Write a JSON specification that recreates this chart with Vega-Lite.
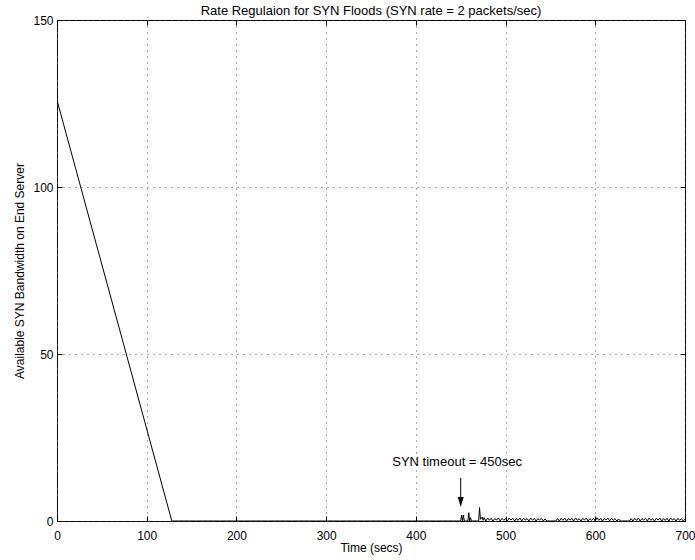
{
  "$schema": "https://vega.github.io/schema/vega-lite/v6.json",
  "width": 628,
  "height": 501,
  "autosize": "none",
  "padding": {"left": 57, "top": 20, "right": 10, "bottom": 39},
  "background": "white",
  "title": {"text": "Rate Regulaion for SYN Floods (SYN rate = 2 packets/sec)", "fontSize": 13, "fontWeight": "normal", "font": "Liberation Sans", "color": "black", "offset": -4},
  "config": {
    "view": {"stroke": "black", "strokeWidth": 1},
    "font": "Liberation Sans",
    "axis": {"domain": false, "labelFont": "Liberation Sans", "titleFont": "Liberation Sans", "labelFontSize": 12, "titleFontSize": 12, "titleFontWeight": "normal", "labelColor": "black", "titleColor": "black", "tickColor": "black", "tickSize": -5, "gridColor": "#555555", "gridDash": [1, 5], "gridOpacity": 1}
  },
  "datasets": {
    "series": [
      {"t": 0, "v": 126}, {"t": 128, "v": 0}, {"t": 450, "v": 0}, {"t": 451, "v": 1.8}, {"t": 452, "v": 0}, {"t": 453, "v": 1.8}, {"t": 454, "v": 0},
      {"t": 458, "v": 0}, {"t": 459, "v": 2.5}, {"t": 460, "v": 0}, {"t": 461, "v": 1}, {"t": 462, "v": 0}, {"t": 470, "v": 0}, {"t": 471, "v": 4},
      {"t": 472, "v": 0.5}, {"t": 474, "v": 1.2}, {"t": 475, "v": 0.2}, {"t": 476, "v": 1}, {"t": 478, "v": 0},
      {"t": 480, "v": 0.9}, {"t": 482, "v": 0.2}, {"t": 484, "v": 0.8}, {"t": 486, "v": 0}, {"t": 488, "v": 0.7}, {"t": 490, "v": 0.3}, {"t": 492, "v": 0.9}, {"t": 494, "v": 0},
      {"t": 496, "v": 0.8}, {"t": 498, "v": 0.2}, {"t": 500, "v": 0.7}, {"t": 502, "v": 0}, {"t": 504, "v": 0.9}, {"t": 506, "v": 0.3}, {"t": 508, "v": 0.8}, {"t": 510, "v": 0},
      {"t": 512, "v": 0.7}, {"t": 514, "v": 0.2}, {"t": 516, "v": 0.9}, {"t": 518, "v": 0}, {"t": 520, "v": 0.8}, {"t": 522, "v": 0.3}, {"t": 524, "v": 0.7}, {"t": 526, "v": 0},
      {"t": 528, "v": 0.9}, {"t": 530, "v": 0.2}, {"t": 532, "v": 0.8}, {"t": 534, "v": 0}, {"t": 536, "v": 0.7}, {"t": 538, "v": 0.3}, {"t": 540, "v": 0.8}, {"t": 542, "v": 0},
      {"t": 544, "v": 0.6}, {"t": 546, "v": 0}, {"t": 556, "v": 0}, {"t": 558, "v": 0.7}, {"t": 560, "v": 0}, {"t": 562, "v": 0.8}, {"t": 564, "v": 0.2}, {"t": 566, "v": 0.9},
      {"t": 568, "v": 0}, {"t": 570, "v": 0.7}, {"t": 572, "v": 0.3}, {"t": 574, "v": 0.8}, {"t": 576, "v": 0}, {"t": 578, "v": 0.9}, {"t": 580, "v": 0.2}, {"t": 582, "v": 0.7},
      {"t": 584, "v": 0}, {"t": 586, "v": 0.8}, {"t": 588, "v": 0.3}, {"t": 590, "v": 0.9}, {"t": 592, "v": 0}, {"t": 594, "v": 0.7}, {"t": 596, "v": 0.2}, {"t": 598, "v": 0.8},
      {"t": 600, "v": 0}, {"t": 602, "v": 1}, {"t": 604, "v": 0.2}, {"t": 606, "v": 0.8}, {"t": 608, "v": 0}, {"t": 610, "v": 0.7}, {"t": 612, "v": 0.3}, {"t": 614, "v": 0.9},
      {"t": 616, "v": 0}, {"t": 618, "v": 0.8}, {"t": 620, "v": 0.2}, {"t": 622, "v": 0.7}, {"t": 624, "v": 0}, {"t": 626, "v": 0.6}, {"t": 628, "v": 0}, {"t": 638, "v": 0},
      {"t": 640, "v": 0.7}, {"t": 642, "v": 0}, {"t": 644, "v": 0.8}, {"t": 646, "v": 0.2}, {"t": 648, "v": 0.9}, {"t": 650, "v": 0}, {"t": 652, "v": 0.7}, {"t": 654, "v": 0.3},
      {"t": 656, "v": 0.8}, {"t": 658, "v": 0}, {"t": 660, "v": 0.9}, {"t": 662, "v": 0.2}, {"t": 664, "v": 0.7}, {"t": 666, "v": 0}, {"t": 668, "v": 0.8}, {"t": 670, "v": 0.3},
      {"t": 672, "v": 0.9}, {"t": 674, "v": 0}, {"t": 676, "v": 0.7}, {"t": 678, "v": 0.2}, {"t": 680, "v": 0.8}, {"t": 682, "v": 0}, {"t": 684, "v": 0.9}, {"t": 686, "v": 0.3},
      {"t": 688, "v": 0.7}, {"t": 690, "v": 0}, {"t": 692, "v": 0.8}, {"t": 694, "v": 0.2}, {"t": 696, "v": 0.7}, {"t": 698, "v": 0}, {"t": 700, "v": 0.5}
    ],
    "arrow": [{"t": 450, "v1": 12.9, "v2": 6.5}],
    "head": [{"t": 450, "v": 5.7}],
    "label": [{"t": 446, "v": 17.7, "text": "SYN timeout = 450sec"}]
  },
  "resolve": {"axis": {"x": "independent", "y": "independent"}},
  "layer": [
    {
      "data": {"name": "series"},
      "mark": {"type": "line", "color": "black", "strokeWidth": 1, "clip": true},
      "encoding": {
        "x": {"field": "t", "type": "quantitative", "scale": {"domain": [0, 700], "nice": false, "zero": false}, "axis": {"values": [0, 100, 200, 300, 400, 500, 600, 700], "title": "Time (secs)", "grid": true, "labelPadding": 14, "titlePadding": 1, "labelFlush": false}},
        "y": {"field": "v", "type": "quantitative", "scale": {"domain": [0, 150], "nice": false}, "axis": {"values": [0, 50, 100, 150], "title": "Available SYN Bandwidth on End Server", "grid": true, "labelPadding": 9, "titlePadding": 6, "labelFlush": false}}
      }
    },
    {
      "data": {"name": "arrow"},
      "mark": {"type": "rule", "color": "black", "strokeWidth": 1},
      "encoding": {
        "x": {"field": "t", "type": "quantitative", "axis": {"orient": "top", "values": [0, 100, 200, 300, 400, 500, 600, 700], "labels": false, "title": null, "grid": false}},
        "y": {"field": "v1", "type": "quantitative", "axis": {"orient": "right", "values": [0, 50, 100, 150], "labels": false, "title": null, "grid": false}},
        "y2": {"field": "v2"}
      }
    },
    {
      "data": {"name": "head"},
      "mark": {"type": "point", "shape": "M-0.6,-1L0.6,-1L0,1Z", "filled": true, "color": "black", "size": 100, "opacity": 1, "strokeWidth": 0},
      "encoding": {
        "x": {"field": "t", "type": "quantitative", "axis": null},
        "y": {"field": "v", "type": "quantitative", "axis": null}
      }
    },
    {
      "data": {"name": "label"},
      "mark": {"type": "text", "color": "black", "fontSize": 13, "font": "Liberation Sans", "align": "center", "baseline": "middle"},
      "encoding": {
        "x": {"field": "t", "type": "quantitative", "axis": null},
        "y": {"field": "v", "type": "quantitative", "axis": null},
        "text": {"field": "text"}
      }
    }
  ]
}
